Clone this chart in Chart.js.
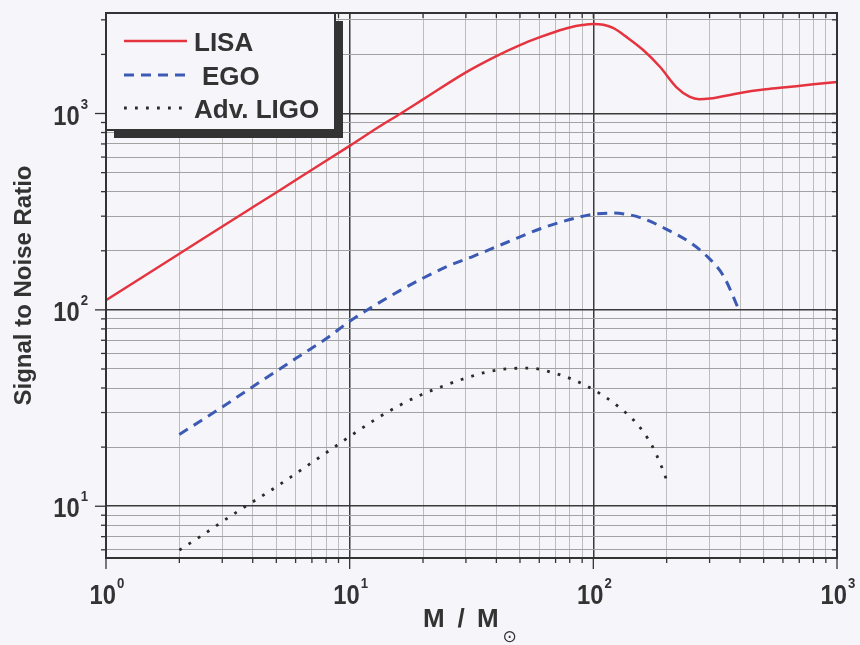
<!DOCTYPE html>
<html lang="en">
<head>
  <meta charset="UTF-8" />
  <title>Signal to Noise Ratio</title>
  <script src="https://cdn.jsdelivr.net/npm/chart.js"></script>
  <style>
    html, body { margin: 0; padding: 0; background: #f6f6fa; }
    #wrap { width: 860px; height: 645px; }
  </style>
</head>
<body>
  <div id="wrap"><canvas id="snrChart" width="860" height="645"></canvas></div>

  <script>
    // values (M / M_sun  vs  SNR)
    const lisaMass = [1, 2, 3, 4, 5, 7, 10, 13.3, 16.2, 20, 30, 40, 50, 60, 70, 80, 90, 100, 110, 121, 137, 161, 188, 219, 249, 272, 300, 400, 500, 600, 800, 1000];
    const lisaSnr  = [112, 193, 266, 333, 396, 517, 684, 861, 1000, 1180, 1620, 1960, 2230, 2440, 2610, 2740, 2820, 2860, 2830, 2720, 2449, 2094, 1725, 1364, 1214, 1182, 1191, 1273, 1324, 1355, 1408, 1446];

    const egoMass = [2, 3, 4, 6, 8, 10, 12.6, 16, 20, 25, 32.3, 44.3, 60.6, 83, 100, 121, 156, 200, 250, 292, 342, 400];
    const egoSnr  = [23.2, 32.0, 40.6, 56.5, 71.3, 87.5, 105, 125, 145, 166, 188, 221, 259, 292, 307, 311, 295, 257, 220, 188, 149, 97];

    const ligoMass = [2, 2.49, 3.05, 3.78, 4.63, 5.69, 7, 8.6, 10.6, 13, 16, 19.7, 24.4, 29.4, 36.1, 44.3, 54.7, 67.3, 83, 102, 125, 151, 174, 191, 199];
    const ligoSnr  = [5.98, 7.13, 8.46, 10.08, 11.8, 14.0, 16.7, 19.9, 23.8, 28.1, 32.6, 37.0, 41.1, 44.6, 48.1, 50.1, 50.5, 48.1, 44, 38.7, 32.6, 26.3, 20.4, 15.8, 13.8];

    const seriesLabels = ['LISA', 'EGO', 'Adv. LIGO'];
    const xDecades = [1, 10, 100, 1000];
    const yDecades = [10, 100, 1000];
    const xRange = [1, 1000];
    const yRange = [5.45, 3250];

    const ink = '#333333';
    const bg = '#f6f6fa';
    const fontFamily = '"Liberation Sans", Arial, Helvetica, sans-serif';

    const toPoints = (xs, ys) => xs.map((v, i) => ({ x: v, y: ys[i] }));
    const isDecade = v => Math.abs(Math.log10(v) - Math.round(Math.log10(v))) < 1e-9;

    function logTicks(axis) {
      const ticks = [];
      const lo = Math.floor(Math.log10(axis.min));
      const hi = Math.ceil(Math.log10(axis.max));
      for (let e = lo; e <= hi; e++) {
        for (let k = 1; k <= 9; k++) {
          const v = k * Math.pow(10, e);
          if (v >= axis.min * 0.999 && v <= axis.max * 1.001) ticks.push({ value: v });
        }
      }
      axis.ticks = ticks;
    }

    // "10" with a raised exponent, slightly condensed like the original
    function powerLabel(ctx, x, y, exp, align) {
      const squeeze = 0.88;
      ctx.save();
      ctx.font = 'bold 27px ' + fontFamily;
      const base = ctx.measureText('10').width * squeeze;
      ctx.font = 'bold 15px ' + fontFamily;
      const sup = ctx.measureText(exp).width * squeeze;
      const total = base + 1 + sup;
      const left = align === 'right' ? x - total : x - total / 2;
      ctx.textAlign = 'left';
      ctx.textBaseline = 'alphabetic';
      ctx.translate(left, y);
      ctx.scale(squeeze, 1);
      ctx.font = 'bold 27px ' + fontFamily;
      ctx.fillText('10', 0, 0);
      ctx.font = 'bold 15px ' + fontFamily;
      ctx.fillText(exp, (base + 1) / squeeze, -16);
      ctx.restore();
    }

    const decorations = {
      id: 'decorations',
      afterDraw(chart) {
        const { ctx, chartArea: a, scales: { x, y } } = chart;
        ctx.save();
        ctx.strokeStyle = ink;
        ctx.fillStyle = ink;

        // frame
        ctx.lineWidth = 2;
        ctx.strokeRect(a.left, a.top, a.right - a.left, a.bottom - a.top);

        // outward ticks on bottom/left, inward ticks on top/right
        ctx.lineWidth = 1.3;
        x.ticks.forEach(t => {
          const px = x.getPixelForValue(t.value);
          const len = isDecade(t.value) ? 11 : 5;
          ctx.beginPath(); ctx.moveTo(px, a.bottom); ctx.lineTo(px, a.bottom + len); ctx.stroke();
          ctx.beginPath(); ctx.moveTo(px, a.top); ctx.lineTo(px, a.top + 5); ctx.stroke();
        });
        y.ticks.forEach(t => {
          const py = y.getPixelForValue(t.value);
          const len = isDecade(t.value) ? 11 : 5;
          ctx.beginPath(); ctx.moveTo(a.left, py); ctx.lineTo(a.left - len, py); ctx.stroke();
          ctx.beginPath(); ctx.moveTo(a.right, py); ctx.lineTo(a.right - 5, py); ctx.stroke();
        });

        // tick labels with superscript exponents
        xDecades.forEach(v => {
          powerLabel(ctx, x.getPixelForValue(v) + 1, a.bottom + 46, String(Math.round(Math.log10(v))), 'center');
        });
        yDecades.forEach(v => {
          powerLabel(ctx, 88, y.getPixelForValue(v) + 11, String(Math.round(Math.log10(v))), 'right');
        });

        // x title: M / M_sun
        const cx = (a.left + a.right) / 2;
        ctx.textAlign = 'left';
        ctx.textBaseline = 'alphabetic';
        ctx.font = 'bold 26px ' + fontFamily;
        ctx.fillText('M', cx - 48.5, a.bottom + 69);
        ctx.fillText('/', cx - 14, a.bottom + 69);
        ctx.fillText('M', cx + 5.5, a.bottom + 69);
        ctx.font = '17px "DejaVu Sans", sans-serif';
        ctx.fillText('\u2299', cx + 31, a.bottom + 84);

        // legend box with drop shadow
        const lb = { l: a.left, t: a.top, r: 335, b: 130 };
        ctx.fillStyle = ink;
        ctx.fillRect(lb.l + 8, lb.t + 8, lb.r - lb.l, lb.b - lb.t);
        ctx.fillStyle = bg;
        ctx.fillRect(lb.l, lb.t, lb.r - lb.l, lb.b - lb.t);
        ctx.lineWidth = 2;
        ctx.strokeRect(lb.l, lb.t, lb.r - lb.l, lb.b - lb.t);

        const rows = [41, 75, 108];
        const textX = [194, 202, 194];
        chart.data.datasets.forEach((ds, i) => {
          const ry = rows[i];
          ctx.save();
          ctx.strokeStyle = ds.borderColor;
          ctx.lineWidth = ds.borderWidth;
          ctx.setLineDash(ds.borderDash || []);
          ctx.beginPath(); ctx.moveTo(124, ry); ctx.lineTo(187, ry); ctx.stroke();
          ctx.restore();
          ctx.fillStyle = ink;
          ctx.font = 'bold 26px ' + fontFamily;
          ctx.textAlign = 'left';
          ctx.textBaseline = 'alphabetic';
          ctx.fillText(ds.label, textX[i], ry + 10);
        });
        ctx.restore();
      }
    };

    new Chart(document.getElementById('snrChart'), {
      type: 'line',
      data: {
        datasets: [
          {
            label: seriesLabels[0],
            data: toPoints(lisaMass, lisaSnr),
            borderColor: '#e5343f',
            borderWidth: 2.5,
            pointRadius: 0,
            cubicInterpolationMode: 'monotone'
          },
          {
            label: seriesLabels[1],
            data: toPoints(egoMass, egoSnr),
            borderColor: '#3c5ab4',
            borderWidth: 3,
            borderDash: [10, 7],
            pointRadius: 0,
            cubicInterpolationMode: 'monotone'
          },
          {
            label: seriesLabels[2],
            data: toPoints(ligoMass, ligoSnr),
            borderColor: '#2b2b2b',
            borderWidth: 2.8,
            borderDash: [2.8, 8.2],
            pointRadius: 0,
            cubicInterpolationMode: 'monotone'
          }
        ]
      },
      options: {
        responsive: false,
        animation: false,
        layout: { padding: { left: 0, right: 23, top: 13, bottom: 0 } },
        plugins: { legend: { display: false }, tooltip: { enabled: false } },
        scales: {
          x: {
            type: 'logarithmic',
            min: xRange[0],
            max: xRange[1],
            afterBuildTicks: logTicks,
            afterFit: s => { s.height = 87; },
            ticks: { display: false },
            border: { display: true, color: ink, width: 2 },
            grid: {
              color: c => (c.tick && isDecade(c.tick.value) ? '#3a3a3a' : '#bdbdbd'),
              lineWidth: c => (c.tick && isDecade(c.tick.value) ? 1.5 : 1),
              drawTicks: false
            }
          },
          y: {
            type: 'logarithmic',
            min: yRange[0],
            max: yRange[1],
            afterBuildTicks: logTicks,
            afterFit: s => { s.width = 106; },
            ticks: { display: false },
            border: { display: true, color: ink, width: 2 },
            grid: {
              color: c => (c.tick && isDecade(c.tick.value) ? '#3a3a3a' : '#a2a2a2'),
              lineWidth: c => (c.tick && isDecade(c.tick.value) ? 1.5 : 1),
              drawTicks: false
            },
            title: {
              display: true,
              text: 'Signal to Noise Ratio',
              color: ink,
              font: { family: fontFamily, size: 24, weight: 'bold' },
              padding: { top: 10, bottom: 0 }
            }
          }
        }
      },
      plugins: [decorations]
    });
  </script>
</body>
</html>
